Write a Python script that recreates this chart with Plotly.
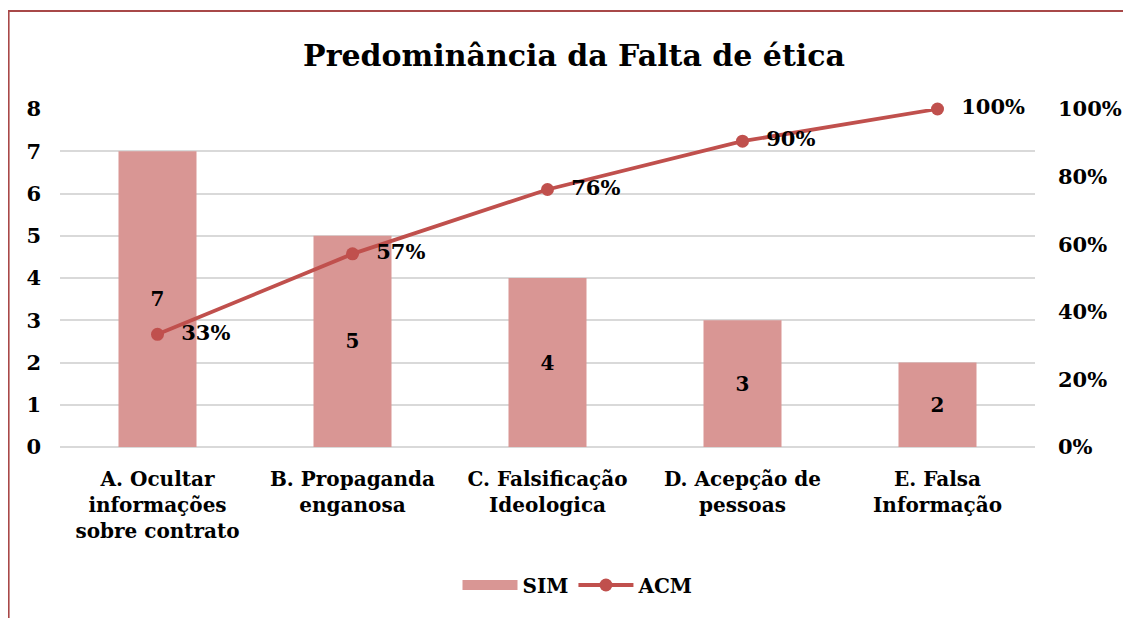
import plotly.graph_objects as go

categories = [
    "A. Ocultar<br>informações<br>sobre contrato",
    "B. Propaganda<br>enganosa",
    "C. Falsificação<br>Ideologica",
    "D. Acepção de<br>pessoas",
    "E. Falsa<br>Informação",
]
sim = [7, 5, 4, 3, 2]
acm = [0.3333, 0.5714, 0.7619, 0.9048, 1.0]
y_ticks = [0, 1, 2, 3, 4, 5, 6, 7, 8]
y2_ticks = [0, 0.2, 0.4, 0.6, 0.8, 1.0]

FONT = "DejaVu Serif"
BAR_COLOR = "#D99694"
LINE_COLOR = "#C0504D"
W, H = 1131, 618
OFF = 8  # page body margin
ml, mr, mt, mb = 60 - OFF, W - (1035 - OFF), 109 - OFF, H - (447 - OFF)
pw, ph = W - ml - mr, H - mt - mb


def px_x(p):
    return (p - OFF - ml) / pw


def px_y(p):
    return (H - mb - (p - OFF)) / ph


fig = go.Figure()
fig.add_trace(go.Bar(
    x=categories, y=sim, name="SIM", width=0.4, showlegend=False,
    marker=dict(color=BAR_COLOR, line=dict(width=0)),
    text=sim, textposition="inside", insidetextanchor="middle",
    textfont=dict(family=FONT, size=20, color="black", weight="bold"),
    textangle=0,
))
# legend entry for bars (wide swatch like the reference)
fig.add_trace(go.Scatter(
    x=[None], y=[None], name="SIM", mode="lines",
    line=dict(color=BAR_COLOR, width=13),
))
fig.add_trace(go.Scatter(
    x=categories, y=acm, name="ACM", yaxis="y2", mode="lines+markers+text",
    line=dict(color=LINE_COLOR, width=3.8),
    marker=dict(color=LINE_COLOR, size=13),
    texttemplate="  %{y:.0%}", textposition="middle right", cliponaxis=False,
    textfont=dict(family=FONT, size=21, color="black", weight="bold"),
))

fig.add_shape(type="rect", xref="paper", yref="paper",
              x0=(0.6 - ml) / pw, x1=px_x(1300), y0=px_y(800), y1=px_y(11),
              line=dict(color="#A84848", width=2), fillcolor="rgba(0,0,0,0)", layer="below")

fig.update_layout(
    width=W, height=H,
    margin=dict(l=ml, r=mr, t=mt, b=mb),
    paper_bgcolor="white", plot_bgcolor="white",
    font=dict(family=FONT, size=20, color="black", weight="bold"),
    title=dict(text="Predominância da Falta de ética", x=(574 - OFF) / W, xref="container",
               xanchor="center", y=1 - (55 - OFF) / H, yanchor="middle", yref="container",
               font=dict(family=FONT, size=30, color="black", weight="bold")),
    xaxis=dict(type="category", range=[-0.5, 4.5], showgrid=False, showline=False,
               ticks="", ticklabelstandoff=18,
               tickfont=dict(family=FONT, size=20, color="black", weight="bold")),
    yaxis=dict(range=[0, 8], tickvals=y_ticks, showgrid=True, gridcolor="#D9D9D9", gridwidth=1.5,
               zeroline=True, zerolinecolor="#D9D9D9", zerolinewidth=1.5, showline=False, ticks="",
               ticklabelstandoff=18,
               tickfont=dict(family=FONT, size=21, color="black", weight="bold")),
    yaxis2=dict(range=[0, 1], tickvals=y2_ticks, tickformat=".0%", overlaying="y", side="right",
                showgrid=False, zeroline=False, showline=False, ticks="", ticklabelstandoff=22,
                tickfont=dict(family=FONT, size=21, color="black", weight="bold")),
    legend=dict(orientation="h", x=px_x(578), xanchor="center", y=px_y(585), yanchor="middle",
                itemwidth=55,
                font=dict(family=FONT, size=20, color="black", weight="bold"),
                bgcolor="rgba(0,0,0,0)"),
    showlegend=True,
    bargap=0.6,
)

fig.write_html("out.html")
